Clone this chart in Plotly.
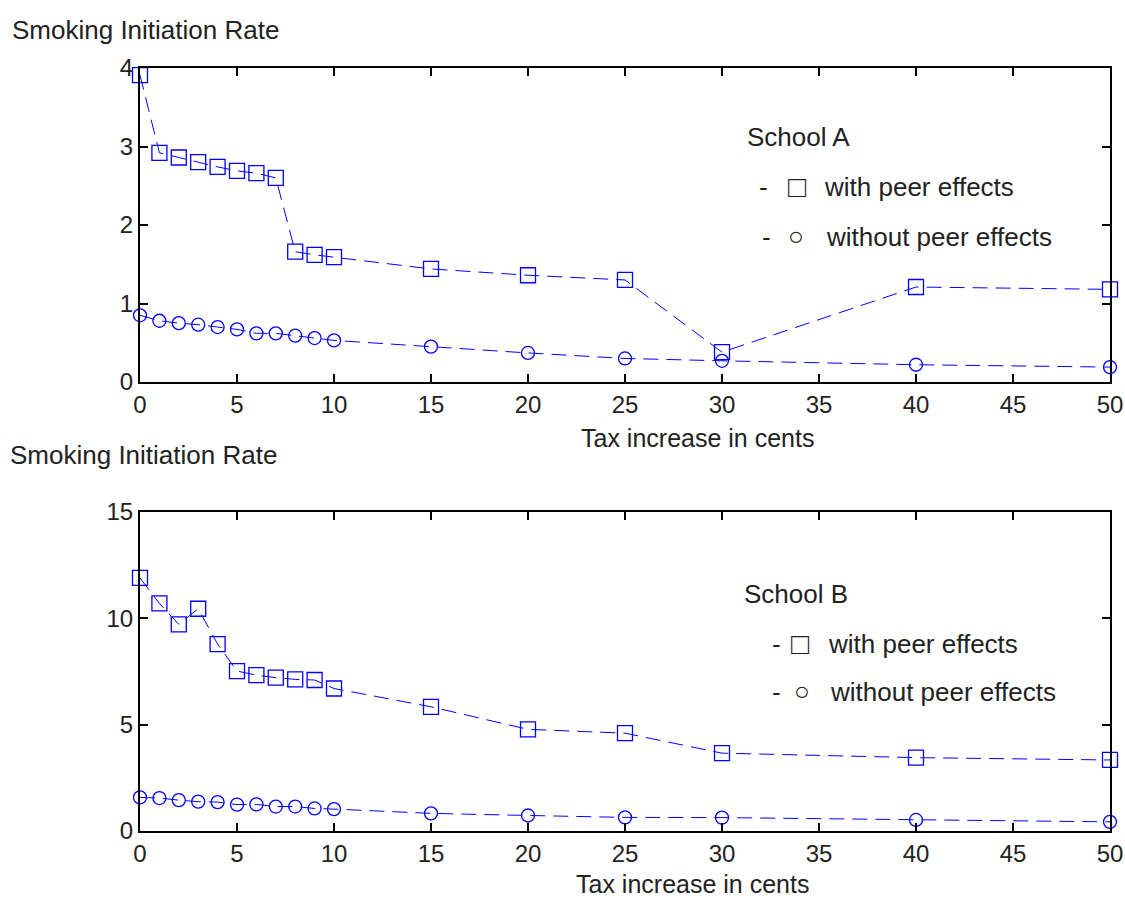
import plotly.graph_objects as go

tax = [0, 1, 2, 3, 4, 5, 6, 7, 8, 9, 10, 15, 20, 25, 30, 40, 50]

a_with = [3.91, 2.92, 2.86, 2.80, 2.74, 2.69, 2.66, 2.60, 1.66, 1.62, 1.59, 1.44, 1.36, 1.30, 0.38, 1.21, 1.18]
a_without = [0.85, 0.78, 0.75, 0.73, 0.70, 0.67, 0.62, 0.62, 0.59, 0.56, 0.53, 0.45, 0.37, 0.30, 0.27, 0.22, 0.19]

b_with = [11.9, 10.7, 9.72, 10.45, 8.79, 7.52, 7.33, 7.21, 7.13, 7.1, 6.7, 5.84, 4.78, 4.6, 3.66, 3.45, 3.34]
b_without = [1.58, 1.55, 1.45, 1.38, 1.36, 1.24, 1.25, 1.15, 1.15, 1.06, 1.03, 0.83, 0.73, 0.64, 0.63, 0.52, 0.43]

x_ticks = [0, 5, 10, 15, 20, 25, 30, 35, 40, 45, 50]
a_y_ticks = [0, 1, 2, 3, 4]
b_y_ticks = [0, 5, 10, 15]

ylabel = "Smoking Initiation Rate"
xlabel = "Tax increase in cents"
series_names = ["with peer effects", "without peer effects"]
schools = ["School A", "School B"]

BLUE = "#0000ff"
FONT = "Liberation Sans, Arial, sans-serif"
TXT = "#222222"

W, HT = 1125, 900

fig = go.Figure()

def add_series(x, y, sym, size, xa, ya, name):
    fig.add_trace(go.Scatter(
        x=x, y=y, mode="lines+markers", name=name, xaxis=xa, yaxis=ya,
        line=dict(color=BLUE, width=1, dash="15px,8px"),
        marker=dict(symbol=sym, size=size, color=BLUE,
                    line=dict(color=BLUE, width=1.3)),
        cliponaxis=False, showlegend=False))

add_series(tax, a_with, "square-open", 15, "x", "y", series_names[0])
add_series(tax, a_without, "circle-open", 13, "x", "y", series_names[1])
add_series(tax, b_with, "square-open", 15, "x2", "y2", series_names[0])
add_series(tax, b_without, "circle-open", 13, "x2", "y2", series_names[1])

# screen-space plot edges
SL, SR, ST, SB = 140, 1110, 68, 831
L, R, T, B = SL, W - SR, ST, HT - SB
H = HT - T - B
top_lo = (SB - 382) / H
bot_hi = (SB - 512) / H

axis_common = dict(showline=True, linecolor="black", linewidth=2, mirror="ticks",
                   ticks="inside", ticklen=8, tickwidth=1.5, tickcolor="black",
                   showgrid=False, zeroline=False, automargin=False,
                   tickfont=dict(family=FONT, size=24, color=TXT))

fig.update_layout(
    width=W, height=HT,
    margin=dict(l=L, r=R, t=T, b=B, autoexpand=False),
    paper_bgcolor="white", plot_bgcolor="white",
    showlegend=False,
    xaxis=dict(domain=[0, 1], range=[0, 50], tickvals=x_ticks, anchor="y", **axis_common),
    yaxis=dict(domain=[top_lo, 1], range=[0, 4], tickvals=a_y_ticks, anchor="x", **axis_common),
    xaxis2=dict(domain=[0, 1], range=[0, 50], tickvals=x_ticks, anchor="y2", **axis_common),
    yaxis2=dict(domain=[0, bot_hi], range=[0, 15], tickvals=b_y_ticks, anchor="x2", **axis_common),
)

def px_x(p):
    return (p - SL) / (SR - SL)

def px_y(p):
    return (SB - p) / H

annots = []
def text(s, x, y, size=25, xanchor="left"):
    annots.append(dict(text=s, x=px_x(x), y=px_y(y), xref="paper", yref="paper",
                       xanchor=xanchor, yanchor="middle", showarrow=False,
                       font=dict(family=FONT, size=size, color=TXT)))

text(ylabel, 10, 30, size=26)
text(ylabel, 8, 455, size=26)
text(xlabel, 697, 438, size=25, xanchor="center")
text(xlabel, 692, 884, size=25, xanchor="center")

# legend blocks
text(schools[0], 745, 137, size=26)
text("-", 757, 187, size=26)
text("\u25a1", 786, 186, size=30)
text(series_names[0], 822, 187, size=26)
text("-", 760, 237, size=26)
text("\u25cb", 786, 236, size=26)
text(series_names[1], 824, 237, size=26)

text(schools[1], 742, 594, size=26)
text("-", 770, 644, size=26)
text("\u25a1", 789, 643, size=30)
text(series_names[0], 826, 644, size=26)
text("-", 770, 692, size=26)
text("\u25cb", 792, 691, size=26)
text(series_names[1], 828, 692, size=26)

fig.update_layout(annotations=annots)
fig.write_html("out.html", config={"displayModeBar": False},
               post_script="document.body.style.margin='0px';document.body.style.overflow='hidden';")
